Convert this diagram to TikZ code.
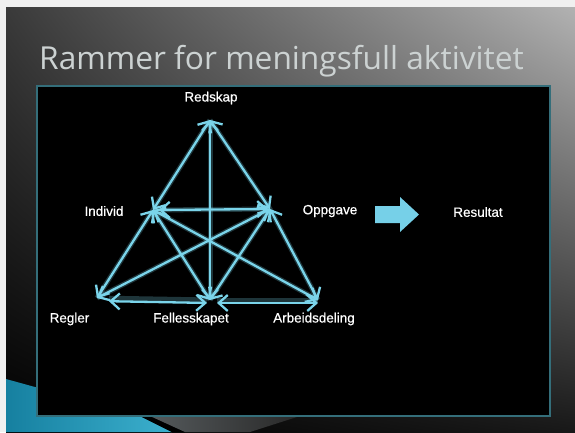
\documentclass[tikz,border=0pt]{standalone}
\usepackage{fontspec}
\setmainfont{Liberation Sans}
\newfontfamily\lblfont{Liberation Sans}[FakeBold=0.5]
\newfontfamily\titlefont{Open Sans}
\usetikzlibrary{arrows.meta,shadings}
\definecolor{outerbg}{RGB}{240,240,240}
\definecolor{cyanline}{RGB}{122,212,234}
\definecolor{cyanfill}{RGB}{118,208,232}
\definecolor{boxedge}{RGB}{52,110,122}
\definecolor{titlegray}{RGB}{204,210,210}
\definecolor{tealA}{RGB}{22,128,160}
\definecolor{tealB}{RGB}{60,176,206}
\definecolor{bgUL}{RGB}{58,58,58}
\definecolor{bgUR}{RGB}{178,178,178}
\definecolor{bgLL}{RGB}{0,0,0}
\definecolor{bgLR}{RGB}{24,24,24}
\definecolor{bandA}{RGB}{85,90,92}
\definecolor{bandB}{RGB}{40,40,40}
\tikzset{
  lbl/.style={text=white, font=\lblfont\fontsize{13.5}{14}\selectfont, inner sep=0pt},
  link/.style={draw=cyanline, line width=2.3bp, line cap=round,
    {Straight Barb[length=9bp,width=16bp,line width=2.3bp]}-{Straight Barb[length=9bp,width=16bp,line width=2.3bp]},
    preaction={draw=cyanline, line width=5bp, opacity=0.25, -}},
}
\begin{document}
\begin{tikzpicture}[x=1bp,y=-1bp]
\useasboundingbox (0,0) rectangle (575,432);
\fill[outerbg] (0,0) rectangle (575,432);
% slide background
\shade[upper left=bgUL, upper right=bgUR, lower left=bgLL, lower right=bgLR]
  (6,7) rectangle (575,432);
% swoosh
\shade[left color=tealA, right color=tealB] (6,379) -- (140,416) -- (172,432) -- (6,432) -- cycle;
\fill[black] (140,416) -- (172,432) -- (185,432) -- (150,416) -- cycle;
\shade[left color=bandA, right color=bandB]
  (150,416) -- (300,416) -- (250,432) -- (185,432) -- cycle;
% black box
\fill[black] (37,86) rectangle (550,416);
\draw[boxedge, line width=1.2bp] (37,86) rectangle (550,416);
% title
\node[anchor=base west, inner sep=0pt, text=titlegray, font=\titlefont\fontsize{31.8}{32}\selectfont]
  (title) at (39,69) {Rammer for meningsfull aktivitet};
% vertices
\coordinate (vR) at (210,120);
\coordinate (vI) at (153,210);
\coordinate (vO) at (270,209);
\coordinate (vRg) at (97,298);
\coordinate (vF) at (210,300);
\coordinate (vA) at (318,300);
% labels
\node[lbl] (redskap) at (211,98) {Redskap};
\node[lbl] (individ) at (104,211) {Individ};
\node[lbl] (oppgave) at (330,211) {Oppgave};
\node[lbl] (resultat) at (478,212) {Resultat};
\node[lbl] (regler) at (69.5,319) {Regler};
\node[lbl] (felles) at (191,319) {Fellesskapet};
\node[lbl] (arbeid) at (314,319) {Arbeidsdeling};
% connectors
\draw[link] (vR) -- (vI);
\draw[link] (vR) -- (vO);
\draw[link] (vR) -- (vF);
\draw[link, shorten <=6bp, shorten >=2bp] (vI) -- (vO);
\draw[link] (vI) -- (vRg);
\draw[link] (vI) -- (vF);
\draw[link] (vI) -- (vA);
\draw[link] (vO) -- (vRg);
\draw[link] (vO) -- (vF);
\draw[link] (vO) -- (vA);
\draw[link, shorten <=12bp, shorten >=3bp, transform canvas={yshift=-3bp}] (vRg) -- (vF);
\draw[link, shorten <=7bp, transform canvas={yshift=-3bp}] (vF) -- (vA);
% block arrow
\fill[cyanfill] (375,206) -- (400,206) -- (400,197) -- (419,214.5) -- (400,232) -- (400,223) -- (375,223) -- cycle;
\end{tikzpicture}
\end{document}
